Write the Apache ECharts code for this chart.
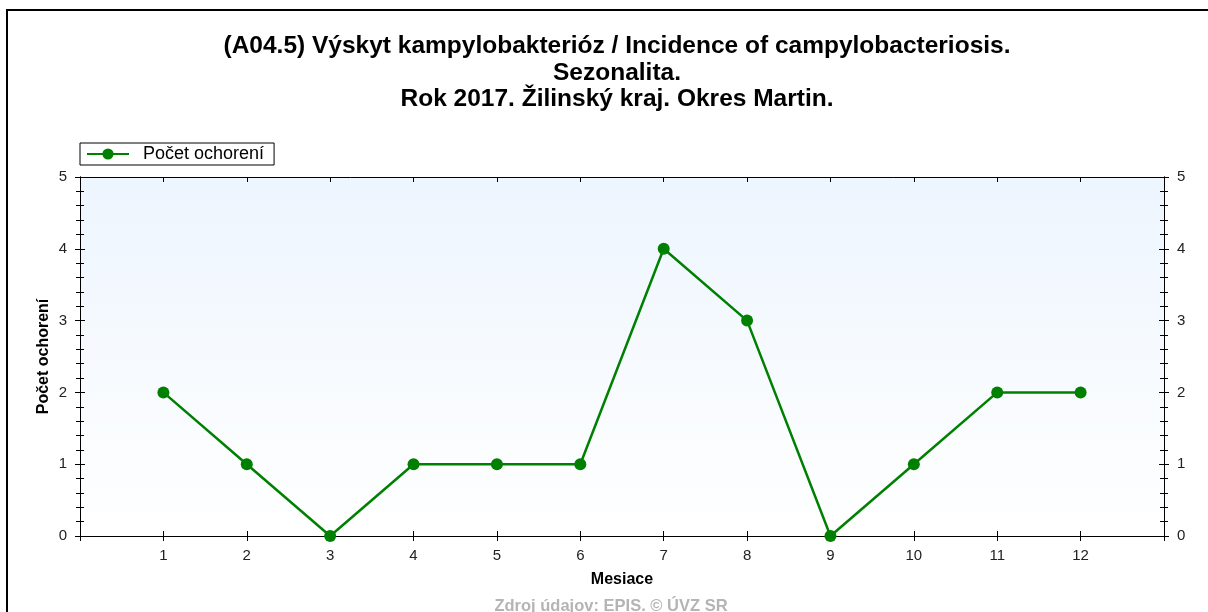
<!DOCTYPE html>
<html>
<head>
<meta charset="utf-8">
<script src="https://cdn.jsdelivr.net/npm/echarts@6/dist/echarts.min.js"></script>
<style>
  html, body { margin: 0; padding: 0; background: #fff; }
  #chart { width: 1208px; height: 612px; }
</style>
</head>
<body>
<div id="chart"></div>
<script>
// data
const months = [1, 2, 3, 4, 5, 6, 7, 8, 9, 10, 11, 12]
const cases = [2, 1, 0, 1, 1, 1, 4, 3, 0, 1, 2, 2]
const yTicks = [0, 1, 2, 3, 4, 5]

const titleLines = [
  '(A04.5) Výskyt kampylobakterióz / Incidence of campylobacteriosis.',
  'Sezonalita.',
  'Rok 2017. Žilinský kraj. Okres Martin.'
]
const seriesName = 'Počet ochorení'
const xName = 'Mesiace'
const yName = 'Počet ochorení'
const source = 'Zdroj údajov: EPIS. © ÚVZ SR'

const font = 'Liberation Sans, Arial, sans-serif'
const chart = echarts.init(document.getElementById('chart'))

const tickStyle = { color: '#000', width: 1 }

// shared y axis base
const yBase = {
  type: 'value',
  min: yTicks[0],
  max: yTicks[yTicks.length - 1],
  interval: 1,
  splitLine: { show: false },
  axisLine: { show: true, onZero: false, lineStyle: { color: '#000', width: 1 } },
  minorTick: { show: true, splitNumber: 5, length: 4, lineStyle: tickStyle },
  axisTick: { show: true, length: 5, lineStyle: tickStyle }
}
const yInner = {
  axisTick: { show: true, inside: true, length: 5, lineStyle: tickStyle },
  minorTick: { show: true, inside: true, splitNumber: 5, length: 4, lineStyle: tickStyle },
  axisLabel: { show: false }
}
const yLabel = { color: '#222', fontSize: 15, fontFamily: font, margin: 13 }

const xBase = {
  type: 'value',
  min: 0,
  max: months.length + 1,
  interval: 1,
  splitLine: { show: false },
  axisLine: { show: true, onZero: false, lineStyle: { color: '#000', width: 1 } },
  axisTick: { show: true, length: 5, lineStyle: tickStyle }
}
const xInner = {
  axisTick: { show: true, inside: true, length: 5, lineStyle: tickStyle },
  axisLabel: { show: false }
}

const options = {
  backgroundColor: '#fff',
  animation: false,
  textStyle: { fontFamily: font },
  title: [
    {
      text: titleLines.join('\n'),
      left: 612,
      top: 28,
      textAlign: 'center',
      textStyle: { fontSize: 24.5, fontWeight: 'bold', color: '#000', lineHeight: 26.5, fontFamily: font }
    },
    {
      text: source,
      left: 606,
      top: 593,
      textAlign: 'center',
      textStyle: { fontSize: 16.5, fontWeight: 'bold', color: '#b4b4b4', fontFamily: font }
    }
  ],
  graphic: [
    {
      type: 'rect',
      shape: { x: 7, y: 10, width: 1220, height: 640 },
      style: { fill: null, stroke: '#000', lineWidth: 2 },
      silent: true
    }
  ],
  legend: {
    left: 80,
    top: 143,
    padding: [2, 10, 2, 6],
    itemWidth: 42,
    itemHeight: 14,
    borderColor: '#000',
    borderWidth: 1,
    borderRadius: 0,
    backgroundColor: '#fff',
    textStyle: { fontSize: 18, color: '#000', fontFamily: font, padding: [0, 0, 0, 9] },
    data: [seriesName]
  },
  grid: {
    left: 80,
    top: 177,
    right: 44,
    bottom: 76,
    show: true,
    borderWidth: 0,
    backgroundColor: new echarts.graphic.LinearGradient(0, 0, 0, 1, [
      { offset: 0, color: '#edf5fe' },
      { offset: 1, color: '#ffffff' }
    ])
  },
  xAxis: [
    {
      ...xBase,
      position: 'bottom',
      name: xName,
      nameLocation: 'middle',
      nameGap: 36,
      nameTextStyle: { fontSize: 16, fontWeight: 'bold', color: '#000', fontFamily: font },
      axisLabel: {
        color: '#222', fontSize: 15, fontFamily: font, margin: 12,
        formatter: v => (v >= 1 && v <= months.length ? String(v) : '')
      }
    },
    { ...xBase, ...xInner, position: 'bottom' },
    { ...xBase, ...xInner, position: 'top' }
  ],
  yAxis: [
    {
      ...yBase,
      position: 'left',
      name: yName,
      nameLocation: 'middle',
      nameGap: 28,
      nameMoveOverlap: false,
      nameTextStyle: { fontSize: 16, fontWeight: 'bold', color: '#000', fontFamily: font },
      axisLabel: yLabel
    },
    { ...yBase, ...yInner, position: 'left' },
    { ...yBase, position: 'right', axisLabel: yLabel },
    { ...yBase, ...yInner, position: 'right' }
  ],
  series: [
    {
      name: seriesName,
      type: 'line',
      xAxisIndex: 0,
      yAxisIndex: 0,
      data: months.map((m, i) => [m, cases[i]]),
      symbol: 'circle',
      symbolSize: 12,
      lineStyle: { color: '#008000', width: 2.5 },
      itemStyle: { color: '#008000' }
    }
  ]
}
chart.setOption(options)
</script>
</body>
</html>
